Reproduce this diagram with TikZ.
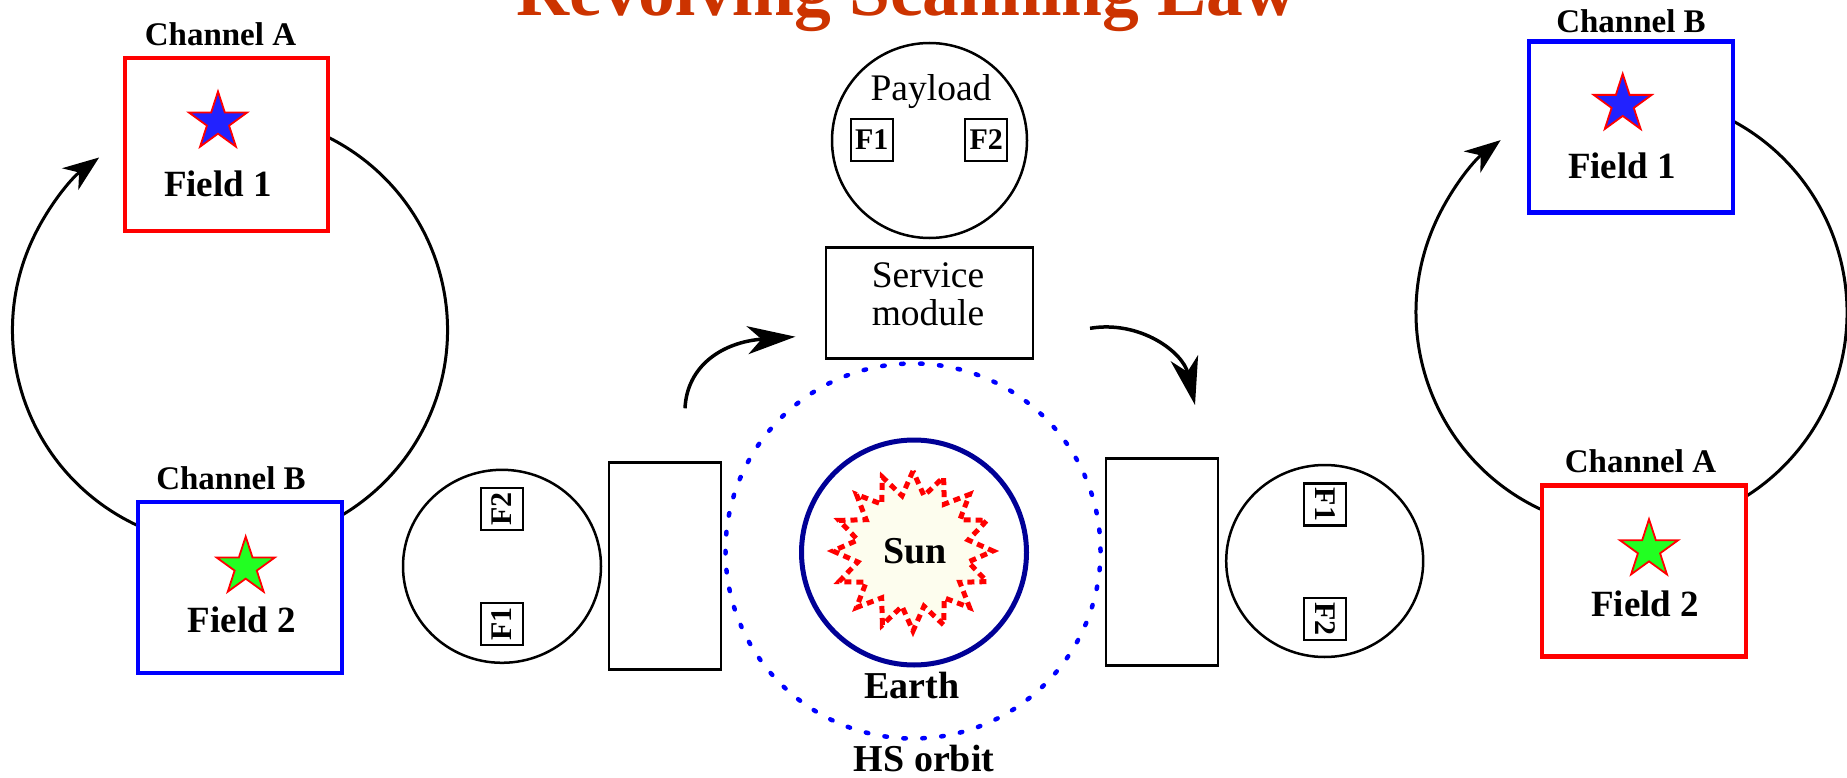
\documentclass[tikz,border=0pt]{standalone}
\usepackage{fontspec}
\setmainfont{Liberation Serif}
\usetikzlibrary{arrows.meta,shapes.geometric}
\definecolor{titlecol}{RGB}{204,51,0}
\definecolor{earthblue}{RGB}{0,0,150}
\definecolor{sunfill}{RGB}{253,253,238}
\definecolor{starblue}{RGB}{34,34,255}
\definecolor{stargreen}{RGB}{34,255,34}
\definecolor{boxred}{RGB}{255,0,0}
\definecolor{boxblue}{RGB}{0,0,255}
\begin{document}
\begin{tikzpicture}[x=1pt,y=-1pt,
  redbox/.style={draw=boxred,line width=4.5pt,fill=white,inner sep=0pt},
  bluebox/.style={draw=boxblue,line width=4.5pt,fill=white,inner sep=0pt},
  chlabel/.style={anchor=base,font=\fontsize{33}{36}\selectfont\bfseries,inner sep=0pt},
  fieldlabel/.style={anchor=base,font=\fontsize{37}{40}\selectfont\bfseries,inner sep=0pt},
  fstar/.style={star,star points=5,star point ratio=2.618,minimum size=61pt,inner sep=0pt,draw=boxred,line width=1.8pt},
  ringarrow/.style={line width=3pt,-{Stealth[length=36pt,width=27pt,inset=11pt]}},
  ringplain/.style={line width=3pt},
  craft/.style={draw,line width=2.5pt,fill=white,inner sep=0pt},
  fbx/.style={draw,line width=2.2pt,fill=white,minimum size=42pt,inner sep=0pt,font=\fontsize{30}{30}\selectfont\bfseries},
  textplain/.style={anchor=base,inner sep=0pt,font=\fontsize{37.5}{40}\selectfont},
  boldlabel/.style={anchor=base,inner sep=0pt,font=\fontsize{38}{40}\selectfont\bfseries},
  swing/.style={line width=3.5pt,-{Stealth[length=48pt,width=28pt,inset=14pt]}},
  orbitline/.style={draw=boxblue,line width=4.5pt,line cap=round,dash pattern=on 2.5pt off 16.5pt},
]
\fill[white] (0,0) rectangle (1847,778);
\useasboundingbox (0,0) rectangle (1847,778);

% title
\node[anchor=base,inner sep=0pt,text=titlecol,font=\fontsize{73.5}{80}\selectfont\bfseries] (title) at (906.5,15.5) {Revolving Scanning Law};

% left loop
\coordinate (LC) at (230,330);
\draw[ringarrow] ([shift={(245:217.5pt and 216pt)}]LC) arc[start angle=245,end angle=127,x radius=217.5pt,y radius=216pt];
\draw[ringplain] ([shift={(68:217.5pt and 216pt)}]LC) arc[start angle=68,end angle=-65,x radius=217.5pt,y radius=216pt];
\node[redbox,minimum width=203pt,minimum height=173pt] (lA) at (226.5,144.4) {};
\node[bluebox,minimum width=204pt,minimum height=171pt] (lB) at (240,587.5) {};
\node[chlabel] (lAt) at (220.5,46) {Channel A};
\node[fstar,fill=starblue] (lAs) at (218,122) {};
\node[fieldlabel] (lAf) at (218,196.4) {Field 1};
\node[chlabel] (lBt) at (231,489.7) {Channel B};
\node[fstar,fill=stargreen] (lBs) at (245.7,567) {};
\node[fieldlabel] (lBf) at (241.7,632.6) {Field 2};

% right loop
\coordinate (RC) at (1631.5,312.5);
\draw[ringarrow] ([shift={(245.4:215.5pt and 217pt)}]RC) arc[start angle=245.4,end angle=127.4,x radius=215.5pt,y radius=217pt];
\draw[ringplain] ([shift={(68:215.5pt and 217pt)}]RC) arc[start angle=68,end angle=-65,x radius=215.5pt,y radius=217pt];
\node[bluebox,minimum width=204pt,minimum height=171pt] (rB) at (1630.9,127) {};
\node[redbox,minimum width=204pt,minimum height=171pt] (rA) at (1644,570.8) {};
\node[chlabel] (rBt) at (1631,32.1) {Channel B};
\node[fstar,fill=starblue] (rBs) at (1622.7,104.3) {};
\node[fieldlabel] (rBf) at (1622,178.6) {Field 1};
\node[chlabel] (rAt) at (1640.5,472.3) {Channel A};
\node[fstar,fill=stargreen] (rAs) at (1649,549.7) {};
\node[fieldlabel] (rAf) at (1645.3,616) {Field 2};

% orbit, earth, sun
\draw[orbitline] (913,551) circle[radius=187.5pt];
\node[draw=earthblue,line width=5pt,circle,minimum size=225pt,inner sep=0pt,fill=white] (earth) at (914,552.5) {};
\node[star,star points=16,star point ratio=1.42,minimum size=160pt,inner sep=0pt,draw=boxred,fill=sunfill,line width=5pt,dash pattern=on 7pt off 5pt] (sun) at (913,551) {};
\node[boldlabel] (sunt) at (915,563) {Sun};
\node[boldlabel] (eartht) at (911.7,698.3) {Earth};
\node[boldlabel] (orbitt) at (924,771.7) {HS orbit};

% top spacecraft
\node[craft,circle,minimum size=195pt] (payload) at (929.5,140.5) {};
\node[textplain] (payt) at (931,101) {Payload};
\node[fbx] (pf1) at (871.7,139.7) {F1};
\node[fbx] (pf2) at (986.3,139.7) {F2};
\node[craft,minimum width=207pt,minimum height=111pt] (sm) at (929.7,302.8) {};
\node[textplain] (smt1) at (928,287) {Service};
\node[textplain] (smt2) at (928,325) {module};

% left spacecraft
\node[craft,ellipse,minimum width=198pt,minimum height=193pt] (lcirc) at (502,566.3) {};
\node[craft,minimum width=112pt,minimum height=207pt] (lrect) at (665,565.8) {};
\node[fbx,rotate=90] (lf2) at (501.7,509.3) {F2};
\node[fbx,rotate=90] (lf1) at (501.7,623.7) {F1};

% right spacecraft
\node[craft,minimum width=112pt,minimum height=207pt] (rrect) at (1162,562) {};
\node[craft,ellipse,minimum width=197pt,minimum height=192pt] (rcirc) at (1324.7,561) {};
\node[fbx,rotate=-90] (rf1) at (1325.3,504.5) {F1};
\node[fbx,rotate=-90] (rf2) at (1325.3,618.7) {F2};

% rotation arrows
\coordinate (la0) at (685,408.3);
\coordinate (la1) at (795.4,336.7);
\draw[swing] (la0) .. controls (687,366) and (722,342) .. (la1);
\coordinate (ra0) at (1090,328.3);
\coordinate (ra1) at (1195,405);
\draw[swing] (ra0) .. controls (1140,320) and (1183,352) .. (ra1);
\end{tikzpicture}
\end{document}
